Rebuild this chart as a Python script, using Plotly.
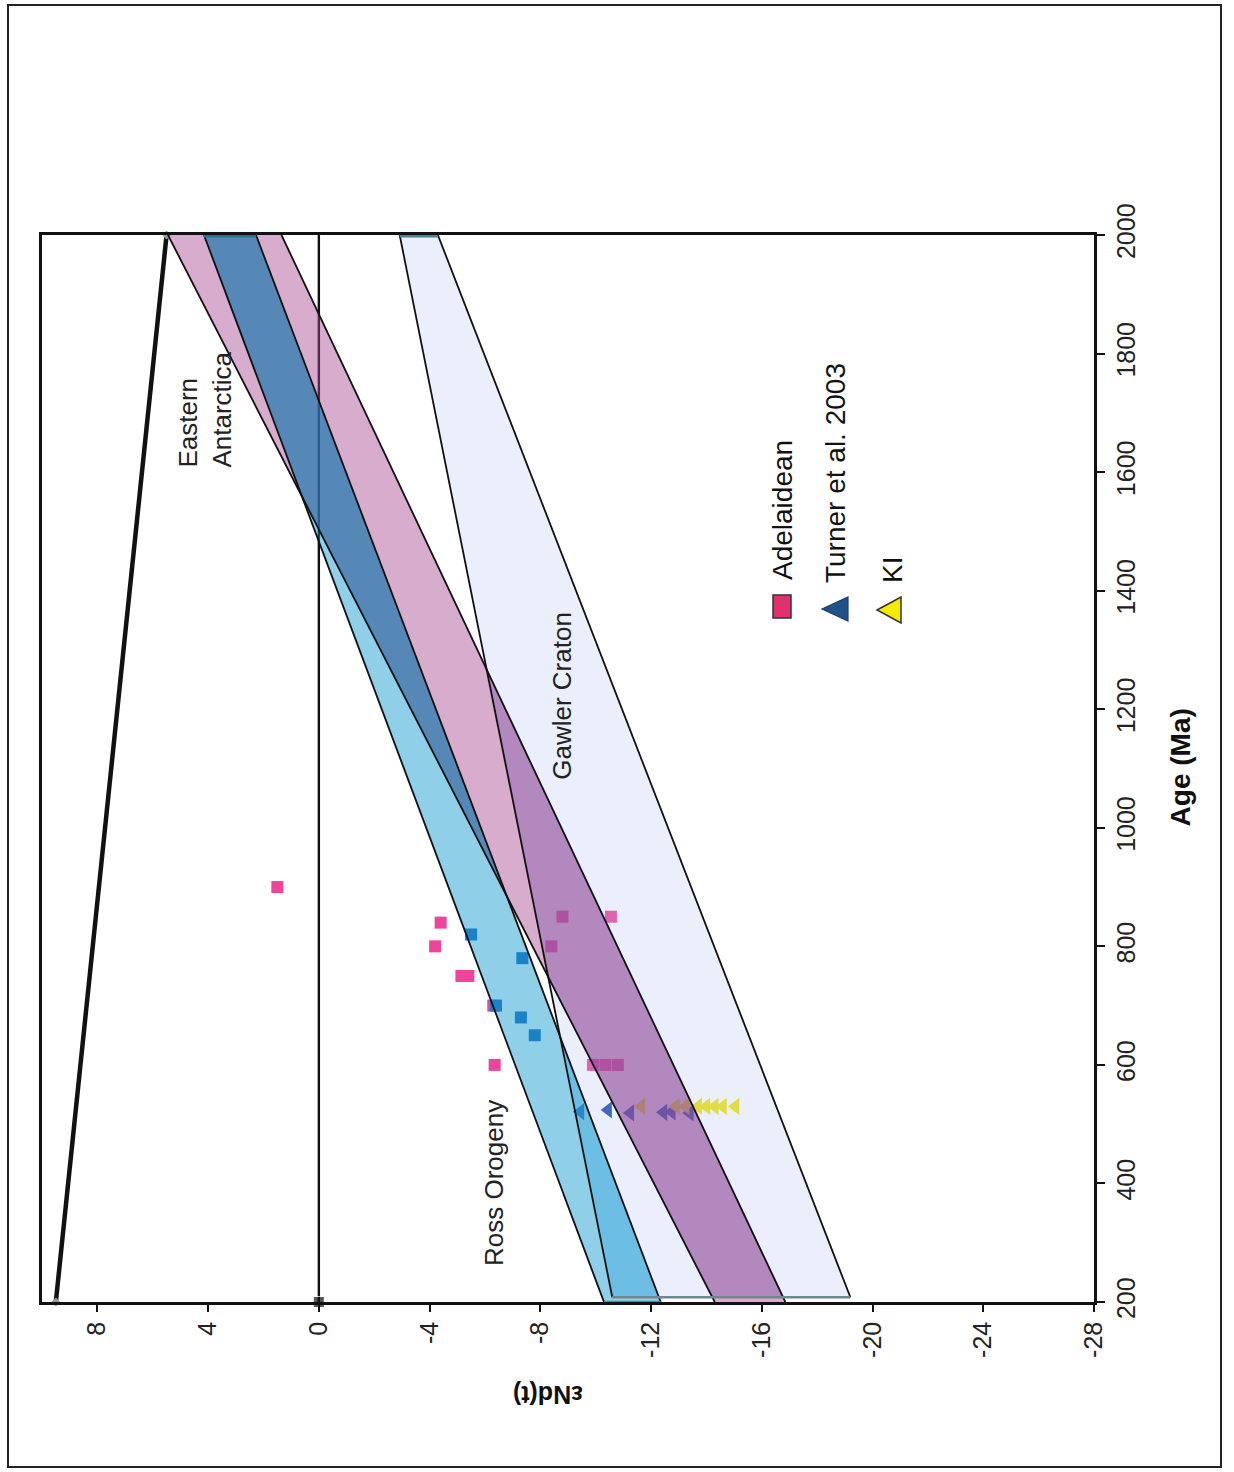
import plotly.graph_objects as go

# ---------------- data ----------------
eps_ticks = [8, 4, 0, -4, -8, -12, -16, -20, -24, -28]
eps_ticktext = ["8", "4", "0", "-4", "-8", "-12", "-16", "-20", "-24", "-28"]
age_ticks = [200, 400, 600, 800, 1000, 1200, 1400, 1600, 1800, 2000]

# depleted mantle evolution line
dm_age = [200, 2000]
dm_eps = [9.5, 5.5]

# zero (CHUR) line
zero_age = [200, 2000]
zero_eps = [0, 0]

# bands: top-left, top-right, bottom-right, bottom-left
band_age = [2000, 2000, 200, 200]
ross_eps = [4.15, 2.27, -12.35, -10.3]          # Ross Orogeny (cyan)
eant_eps = [5.45, 1.35, -16.85, -14.3]          # Eastern Antarctica (pink)
gawler_age = [2000, 2000, 208, 208]
gawler_eps = [-2.92, -4.3, -19.2, -10.6]        # Gawler Craton (lavender)

# Adelaidean samples
adel_eps = [1.5, -4.4, -4.2, -5.15, -5.4, -6.3, -6.35, -8.8, -10.55, -8.4, -9.9, -10.35, -10.8]
adel_age = [900, 840, 800, 750, 750, 700, 600, 850, 850, 800, 600, 600, 600]

# other samples (blue squares)
bsq_eps = [-5.5, -7.35, -6.4, -7.3, -7.8]
bsq_age = [820, 780, 700, 680, 650]

# Turner et al. 2003
turner_eps = [-9.45, -10.45, -11.25, -12.45, -12.75, -13.4]
turner_age = [521, 524, 519, 520, 521, 519]

# KI
ki_eps = [-11.65, -12.9, -13.25, -13.7, -14.0, -14.3, -14.6, -15.05]
ki_age = [530, 530, 530, 530, 530, 530, 530, 530]


# ---------------- geometry helpers ----------------
def poly(xs, ys):
    return list(zip(xs, ys))


def signed_area(p):
    n = len(p)
    return 0.5 * sum(p[i][0] * p[(i + 1) % n][1] - p[(i + 1) % n][0] * p[i][1] for i in range(n))


def clip_poly(subj, clip):
    s = 1 if signed_area(clip) > 0 else -1

    def inside(pt, a, b):
        return s * ((b[0] - a[0]) * (pt[1] - a[1]) - (b[1] - a[1]) * (pt[0] - a[0])) >= -1e-12

    def inter(p1, p2, a, b):
        x1, y1 = p1; x2, y2 = p2; x3, y3 = a; x4, y4 = b
        den = (x1 - x2) * (y3 - y4) - (y1 - y2) * (x3 - x4)
        if abs(den) < 1e-15:
            return p2
        t = ((x1 - x3) * (y3 - y4) - (y1 - y3) * (x3 - x4)) / den
        return (x1 + t * (x2 - x1), y1 + t * (y2 - y1))

    out = list(subj)
    for i in range(len(clip)):
        a, b = clip[i], clip[(i + 1) % len(clip)]
        inp, out = out, []
        if not inp:
            break
        for j in range(len(inp)):
            cur, prev = inp[j], inp[j - 1]
            if inside(cur, a, b):
                if not inside(prev, a, b):
                    out.append(inter(prev, cur, a, b))
                out.append(cur)
            elif inside(prev, a, b):
                out.append(inter(prev, cur, a, b))
    return out


ross = poly(ross_eps, band_age)
eant = poly(eant_eps, band_age)
gawler = poly(gawler_eps, gawler_age)

fig = go.Figure()


def fill_trace(p, color):
    if len(p) < 3:
        return
    xs = [q[0] for q in p] + [p[0][0]]
    ys = [q[1] for q in p] + [p[0][1]]
    fig.add_trace(go.Scatter(x=xs, y=ys, mode="lines", fill="toself", fillcolor=color,
                             line=dict(width=0), hoverinfo="skip", showlegend=False))


# zero line and DM line (beneath everything)
fig.add_trace(go.Scatter(x=zero_eps, y=zero_age, mode="lines+markers",
                         line=dict(color="#111", width=2.4),
                         marker=dict(symbol="square", size=[11, 0], color="#111"),
                         showlegend=False, hoverinfo="skip", cliponaxis=False))
fig.add_trace(go.Scatter(x=dm_eps, y=dm_age, mode="lines+markers",
                         line=dict(color="#111", width=4.5),
                         marker=dict(symbol="diamond", size=7, color="#9a9a9a"),
                         showlegend=False, hoverinfo="skip", cliponaxis=False))

# samples (drawn beneath the translucent bands, like the original)
fig.add_trace(go.Scatter(x=adel_eps, y=adel_age, mode="markers", name="Adelaidean",
                         marker=dict(symbol="square", size=12, color="#f0449b"), showlegend=False))
fig.add_trace(go.Scatter(x=bsq_eps, y=bsq_age, mode="markers",
                         marker=dict(symbol="square", size=12, color="#2b74c8"), showlegend=False))
fig.add_trace(go.Scatter(x=turner_eps, y=turner_age, mode="markers", name="Turner et al. 2003",
                         marker=dict(symbol="triangle-left", size=15, color="#1c4fa8"), showlegend=False))
fig.add_trace(go.Scatter(x=ki_eps, y=ki_age, mode="markers", name="KI",
                         marker=dict(symbol="triangle-left", size=15, color="#f5e40a"), showlegend=False))

# bands
fill_trace(gawler, "rgba(175,190,240,0.25)")
fill_trace(eant, "rgba(168,71,142,0.45)")
fill_trace(ross, "rgba(8,148,204,0.45)")
# overlaps (darker, as in the original)
fill_trace(clip_poly(eant, gawler), "rgba(109,69,162,0.28)")
fill_trace(clip_poly(eant, ross), "rgba(29,100,150,0.40)")
fill_trace(clip_poly(ross, gawler), "rgba(41,166,222,0.25)")

# band edges
for p in (gawler, eant, ross):
    fig.add_trace(go.Scatter(x=[p[0][0], p[3][0], None, p[1][0], p[2][0]],
                             y=[p[0][1], p[3][1], None, p[1][1], p[2][1]],
                             mode="lines", line=dict(color="#111", width=1.8),
                             showlegend=False, hoverinfo="skip"))
# top / bottom edges
fig.add_trace(go.Scatter(x=[ross[0][0], ross[1][0]], y=[ross[0][1], ross[1][1]], mode="lines",
                         line=dict(color="#2f6f82", width=5), showlegend=False, hoverinfo="skip"))
fig.add_trace(go.Scatter(x=[gawler[0][0], gawler[1][0]], y=[gawler[0][1], gawler[1][1]], mode="lines",
                         line=dict(color="#4d8090", width=5), showlegend=False, hoverinfo="skip"))
fig.add_trace(go.Scatter(x=[gawler[3][0], gawler[2][0]], y=[gawler[3][1], gawler[2][1]], mode="lines",
                         line=dict(color="#6f8890", width=2.5), showlegend=False, hoverinfo="skip"))
fig.add_trace(go.Scatter(x=[ross[3][0], ross[2][0]], y=[ross[3][1], ross[2][1]], mode="lines",
                         line=dict(color="#3a8fb0", width=2.5), showlegend=False, hoverinfo="skip"))

FONT = "Liberation Sans, Arial, sans-serif"

annotations = [
    dict(x=4.12, y=1604, xref="x", yref="y", text="Eastern<br>Antarctica", textangle=-90,
         align="left", xanchor="center", yanchor="bottom", showarrow=False,
         font=dict(family=FONT, size=26, color="#222")),
    dict(x=-6.32, y=257, xref="x", yref="y", text="Ross Orogeny", textangle=-90,
         xanchor="center", yanchor="bottom", showarrow=False,
         font=dict(family=FONT, size=26, color="#222")),
    dict(x=-8.77, y=1077, xref="x", yref="y", text="Gawler Craton", textangle=-90,
         xanchor="center", yanchor="bottom", showarrow=False,
         font=dict(family=FONT, size=26, color="#222")),
    # legend texts
    dict(x=0.7044, y=0.6748, xref="paper", yref="paper", text="Adelaidean", textangle=-90,
         xanchor="center", yanchor="bottom", showarrow=False,
         font=dict(family=FONT, size=28, color="#111")),
    dict(x=0.7548, y=0.672, xref="paper", yref="paper", text="Turner et al. 2003", textangle=-90,
         xanchor="center", yanchor="bottom", showarrow=False,
         font=dict(family=FONT, size=28, color="#111")),
    dict(x=0.809, y=0.672, xref="paper", yref="paper", text="KI", textangle=-90,
         xanchor="center", yanchor="bottom", showarrow=False,
         font=dict(family=FONT, size=28, color="#111")),
    # axis titles
    dict(x=1.0817, y=0.501, xref="paper", yref="paper", text="<b>Age (Ma)</b>", textangle=-90,
         xanchor="center", yanchor="middle", showarrow=False,
         font=dict(family=FONT, size=28, color="#111")),
    dict(x=0.481, y=-0.0872, xref="paper", yref="paper", text="<b>εNd(t)</b>", textangle=180,
         xanchor="center", yanchor="middle", showarrow=False,
         font=dict(family=FONT, size=25, color="#111")),
]


def px2paper(px, py):
    return (px - 42) / 1052.0, (1302 - py) / 1067.0


def tri_path(apex, top, bot):
    a = px2paper(*apex); t = px2paper(*top); b = px2paper(*bot)
    return "M %f %f L %f %f L %f %f Z" % (a[0], a[1], t[0], t[1], b[0], b[1])


x0, y0 = px2paper(773, 618)
x1, y1 = px2paper(791, 595)
bx0, by0 = px2paper(8, 1467)
bx1, by1 = px2paper(1221, 5)
shapes = [
    dict(type="rect", xref="paper", yref="paper", x0=bx0, y0=by0, x1=bx1, y1=by1,
         line=dict(color="#222", width=2), fillcolor="rgba(0,0,0,0)", layer="below"),
    dict(type="rect", xref="paper", yref="paper", x0=x0, y0=y0, x1=x1, y1=y1,
         line=dict(color="#333", width=1.5), fillcolor="#e2306e"),
    dict(type="path", xref="paper", yref="paper", path=tri_path((822, 609), (848, 597), (848, 621)),
         line=dict(color="#1b3f66", width=1.2), fillcolor="#1f5288"),
    dict(type="path", xref="paper", yref="paper", path=tri_path((877, 610), (901, 597), (901, 623)),
         line=dict(color="#333", width=1.5), fillcolor="#f6ea00"),
]

fig.update_layout(
    width=1234, height=1472, autosize=False,
    margin=dict(l=42, r=140, t=235, b=170, pad=0),
    paper_bgcolor="white", plot_bgcolor="white",
    showlegend=False,
    font=dict(family=FONT, color="#111"),
    annotations=annotations,
    shapes=shapes,
    xaxis=dict(range=[10, -28], tickvals=eps_ticks, ticktext=eps_ticktext, tickangle=-90,
               ticks="outside", ticklen=7, tickwidth=1.5, tickcolor="#111",
               showline=True, linecolor="#111", linewidth=2.5, mirror=True,
               showgrid=False, zeroline=False,
               tickfont=dict(family=FONT, size=25, color="#222")),
    yaxis=dict(range=[200, 2000], side="right", tickvals=age_ticks, tickangle=-90,
               ticks="outside", ticklen=8, tickwidth=1.5, tickcolor="#111",
               showline=True, linecolor="#111", linewidth=2.5, mirror=True,
               showgrid=False, zeroline=False,
               tickfont=dict(family=FONT, size=25, color="#222")),
)

fig.write_html("out.html")
